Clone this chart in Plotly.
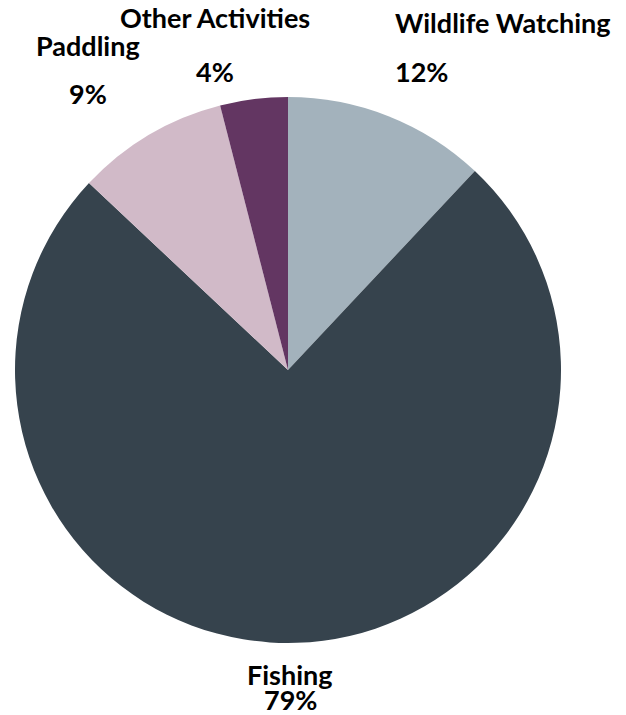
import plotly.graph_objects as go

categories = ["Wildlife Watching", "Fishing", "Paddling", "Other Activities"]
slice_values = [12, 75, 9, 4]          # slice sizes as drawn
label_percents = ["12%", "79%", "9%", "4%"]  # percentages printed on the chart
colors = ["#A3B2BC", "#36434D", "#D1BAC8", "#633662"]

W, H = 626, 715
cx, cy, r = 288, 370, 273

fig = go.Figure(go.Pie(
    labels=categories,
    values=slice_values,
    sort=False,
    direction="clockwise",
    rotation=0,
    marker=dict(colors=colors, line=dict(width=0)),
    textinfo="none",
    hoverinfo="label+value",
    showlegend=False,
    domain=dict(x=[(cx - r) / W, (cx + r) / W], y=[1 - (cy + r) / H, 1 - (cy - r) / H]),
))

font = dict(family="Lato", size=27, color="#000000")

def px(x, y):
    return x / W, 1 - y / H

# label placement (name line, percent line), in pixels
placements = {
    "Wildlife Watching": [((393, 22), "left"), ((393, 72), "left")],
    "Fishing": [((290, 674), "center"), ((290, 699), "center")],
    "Paddling": [((88, 46), "center"), ((88, 93), "center")],
    "Other Activities": [((215, 18), "center"), ((215, 71), "center")],
}
for cat, pct in zip(categories, label_percents):
    (p1, a1), (p2, a2) = placements[cat]
    for (x, y), a, txt in [(p1, a1, cat), (p2, a2, pct)]:
        ax, ay = px(x, y)
        fig.add_annotation(x=ax, y=ay, xref="paper", yref="paper", text=f"<b>{txt}</b>",
                           showarrow=False, xanchor=a, yanchor="middle", font=font)

fig.update_layout(width=W, height=H, margin=dict(l=0, r=0, t=0, b=0),
                  paper_bgcolor="white", plot_bgcolor="white")
fig.write_html("out.html", config={"displayModeBar": False},
               post_script="document.body.style.margin='0';")
